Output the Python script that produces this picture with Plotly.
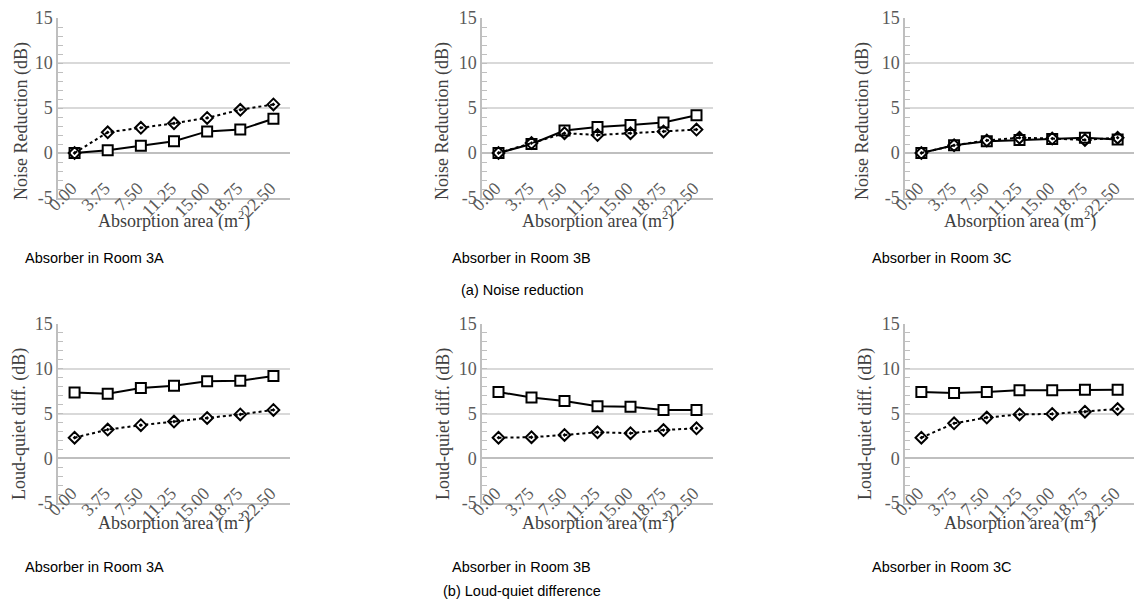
import plotly.graph_objects as go

# ---------------- data ----------------
absorption_area = ["0.00", "3.75", "7.50", "11.25", "15.00", "18.75", "22.50"]
y_ticks = [-5, 0, 5, 10, 15]

nr_3a_solid = [0, 0.3, 0.8, 1.3, 2.4, 2.6, 3.8]
nr_3a_dotted = [0, 2.3, 2.8, 3.3, 3.9, 4.8, 5.4]
nr_3b_solid = [0, 1.0, 2.5, 2.9, 3.1, 3.4, 4.2]
nr_3b_dotted = [0, 1.1, 2.2, 2.0, 2.2, 2.4, 2.6]
nr_3c_solid = [0, 0.85, 1.3, 1.45, 1.55, 1.7, 1.5]
nr_3c_dotted = [0, 0.85, 1.4, 1.7, 1.6, 1.45, 1.7]

lq_3a_solid = [7.35, 7.2, 7.85, 8.1, 8.6, 8.65, 9.2]
lq_3a_dotted = [2.3, 3.2, 3.7, 4.1, 4.5, 4.9, 5.4]
lq_3b_solid = [7.4, 6.8, 6.4, 5.8, 5.75, 5.4, 5.4]
lq_3b_dotted = [2.3, 2.35, 2.6, 2.9, 2.8, 3.15, 3.35]
lq_3c_solid = [7.4, 7.3, 7.4, 7.6, 7.6, 7.65, 7.65]
lq_3c_dotted = [2.3, 3.9, 4.55, 4.9, 4.95, 5.2, 5.5]

room_captions = ["Absorber in Room 3A", "Absorber in Room 3B", "Absorber in Room 3C"]
row_captions = ["(a) Noise reduction", "(b) Loud-quiet difference"]
y_titles = ["Noise Reduction (dB)", "Loud-quiet diff. (dB)"]
x_title = "Absorption area (m<sup>2</sup>)"

panels = [
    (nr_3a_solid, nr_3a_dotted), (nr_3b_solid, nr_3b_dotted), (nr_3c_solid, nr_3c_dotted),
    (lq_3a_solid, lq_3a_dotted), (lq_3b_solid, lq_3b_dotted), (lq_3c_solid, lq_3c_dotted),
]

# ---------------- layout geometry (pixels) ----------------
W, H = 1134, 604
col_px = [(58, 290), (482, 713), (905, 1134)]
row_px = [(18, 198), (324, 503)]  # top, bottom
ytitle_x = [[22, 443, 863], [19, 443, 865]]
ytitle_y = [121, 424]
xtitle_y = [220, 522]
caption_x = [94, 521, 941]
caption_y = [258, 567]
rowcap_y = [290, 591]

SERIF = "Liberation Serif, Times New Roman, serif"
SANS = "Liberation Sans, Arial, sans-serif"
GRID = "#d9d9d9"
AXIS = "#bfbfbf"
TICKTXT = "#595959"
TITLETXT = "#404040"

def px_x(v):
    return v / W

def px_y(v):
    return 1 - v / H

fig = go.Figure()
layout = {}
annotations = []

for i, (solid, dotted) in enumerate(panels):
    r, c = divmod(i, 3)
    n = i + 1
    xa = "x" if n == 1 else f"x{n}"
    ya = "y" if n == 1 else f"y{n}"
    fig.add_trace(go.Scatter(
        x=absorption_area, y=solid, xaxis=xa, yaxis=ya, mode="lines+markers",
        line=dict(color="black", width=2),
        marker=dict(symbol="square", size=10, color="white", line=dict(color="black", width=2)),
        showlegend=False, cliponaxis=False))
    fig.add_trace(go.Scatter(
        x=absorption_area, y=dotted, xaxis=xa, yaxis=ya, mode="lines+markers",
        line=dict(color="black", width=2, dash="dot"),
        marker=dict(symbol="diamond-open-dot", size=9, color="black", line=dict(color="black", width=2)),
        showlegend=False, cliponaxis=False))

    x0, x1 = col_px[c]
    yt, yb = row_px[r]
    xkey = "xaxis" if n == 1 else f"xaxis{n}"
    ykey = "yaxis" if n == 1 else f"yaxis{n}"
    layout[xkey] = dict(
        domain=[px_x(x0), px_x(x1)], anchor=ya, type="category",
        categoryorder="array", categoryarray=absorption_area,
        range=[-0.5, 6.5], showgrid=False, zeroline=False,
        showline=True, linecolor=AXIS, linewidth=1.5, ticks="",
        tickangle=-45, ticklabelstandoff=-29, ticklabelshift=-3,
        tickfont=dict(family=SERIF, size=18, color=TICKTXT),
        automargin=False, fixedrange=True)
    layout[ykey] = dict(
        domain=[px_y(yb), px_y(yt)], anchor=xa, range=[-5, 15],
        tickmode="array", tickvals=y_ticks, ticktext=[str(v) for v in y_ticks],
        showgrid=True, gridcolor=GRID, gridwidth=1.5,
        zeroline=True, zerolinecolor=AXIS, zerolinewidth=1.5,
        showline=True, linecolor=AXIS, linewidth=1.5,
        ticks="inside", ticklen=5, tickcolor=AXIS, tickwidth=1,
        minor=dict(ticks="inside", dtick=1, ticklen=5, tickcolor=AXIS, tickwidth=1, showgrid=False),
        tickfont=dict(family=SERIF, size=18, color=TICKTXT),
        automargin=False, fixedrange=True)

    annotations.append(dict(
        text=y_titles[r], xref="paper", yref="paper",
        x=px_x(ytitle_x[r][c]), y=px_y(ytitle_y[r]), textangle=-90,
        showarrow=False, xanchor="center", yanchor="middle",
        font=dict(family=SERIF, size=18, color=TITLETXT)))
    annotations.append(dict(
        text=x_title, xref="paper", yref="paper",
        x=px_x((x0 + x1) / 2), y=px_y(xtitle_y[r]),
        showarrow=False, xanchor="center", yanchor="middle",
        font=dict(family=SERIF, size=18, color=TITLETXT)))
    annotations.append(dict(
        text=room_captions[c], xref="paper", yref="paper",
        x=px_x(caption_x[c]), y=px_y(caption_y[r]),
        showarrow=False, xanchor="center", yanchor="middle",
        font=dict(family=SANS, size=14.5, color="black")))

for r in range(2):
    annotations.append(dict(
        text=row_captions[r], xref="paper", yref="paper",
        x=px_x(522), y=px_y(rowcap_y[r]),
        showarrow=False, xanchor="center", yanchor="middle",
        font=dict(family=SANS, size=14.5, color="black")))

fig.update_layout(
    width=W, height=H, margin=dict(l=0, r=0, t=0, b=0),
    paper_bgcolor="white", plot_bgcolor="white",
    annotations=annotations, **layout)

fig.write_html("out.html")
